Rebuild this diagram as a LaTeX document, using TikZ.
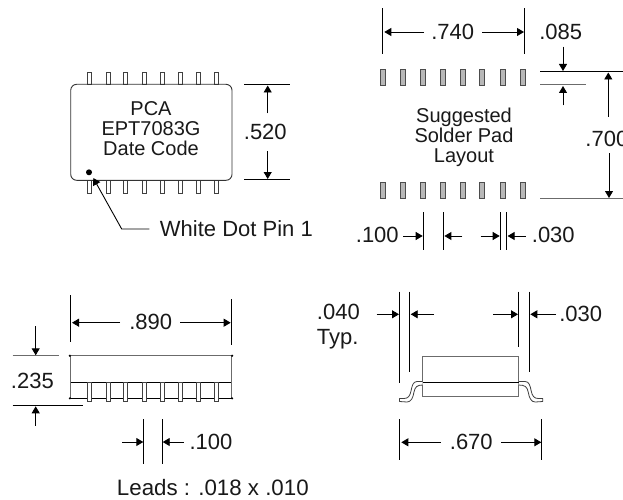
\documentclass[tikz,border=0pt]{standalone}
\usepackage{fontspec}
\setmainfont{Liberation Sans}
\usetikzlibrary{arrows.meta}
\definecolor{linegray}{gray}{0.42}
\definecolor{padgray}{gray}{0.72}
\tikzset{
  dimarrow/.style={draw=black,-{Triangle[length=7pt,width=8pt]}},
  ext/.style={draw=black},
  extg/.style={draw=linegray,line width=1pt},
  dimtext/.style={inner sep=0pt,font=\fontsize{22}{22}\selectfont,text=black!90},
  bodytext/.style={inner sep=0pt,anchor=base,font=\fontsize{20}{20}\selectfont,text=black!90},
  leadpin/.style={draw=black!75,fill=white,line width=0.8pt},
  padbox/.style={draw=black!70,fill=padgray,line width=0.8pt},
}
\begin{document}
\begin{tikzpicture}[x=1pt,y=-1pt,line width=0.9pt]
\clip (0,0) rectangle (623,500);
\fill[white] (0,0) rectangle (623,500);
% --- top view ---
\foreach \c in {89.3,108,125.3,144,162.3,180.3,198.7,216.3}{
  \draw[leadpin] (\c-2,72) rectangle (\c+2,84.3);
  \draw[leadpin] (\c-2,180.3) rectangle (\c+2,193);
}
\draw[draw=black!80,rounded corners=6pt] (70.7,84.3) rectangle (232,180.3);
\fill (89,172.3) circle (3);
\node[bodytext] (pca) at (151,115.5) {PCA};
\node[bodytext] (ept) at (151,135.7) {EPT7083G};
\node[bodytext] (dc) at (151,155.7) {Date Code};
\draw[ext] (244.3,84.3) -- (290.3,84.3);
\draw[ext] (244.3,179.5) -- (290.3,179.5);
\node[dimtext] (d520) at (265.3,131.7) {.520};
\draw[dimarrow] (267.7,113.3) -- (267.7,85.5);
\draw[dimarrow] (267.7,151) -- (267.7,179);
\node[dimtext,anchor=west] (wd) at (159.5,229) {White Dot Pin 1};
\coordinate (wdend) at (149.3,229);
\draw[dimarrow] (wdend) -- (121.7,229) -- (93.3,178);
% --- pad layout ---
\foreach \c in {383.3,403,422.7,442.7,462.7,482.3,503,523}{
  \draw[padbox] (\c-2.5,69.5) rectangle (\c+2.5,85.3);
  \draw[padbox] (\c-2.5,182.7) rectangle (\c+2.5,198.7);
}
\node[bodytext] (sg) at (464,122.7) {Suggested};
\node[bodytext] (sp) at (464,142.7) {Solder Pad};
\node[bodytext] (ly) at (464,162.7) {Layout};
\draw[ext] (382.7,8.3) -- (382.7,54);
\draw[ext] (524.3,8.3) -- (524.3,54);
\node[dimtext] (d740) at (452.7,32) {.740};
\draw[dimarrow] (424,32) -- (384.3,32);
\draw[dimarrow] (482.3,32) -- (524,32);
\node[dimtext] (d085) at (560.7,32) {.085};
\draw[ext] (540,71.3) -- (623,71.3);
\draw[extg] (540,85) -- (586,85);
\draw[extg] (540,198) -- (623,198);
\draw[dimarrow] (563,46.7) -- (563,71);
\draw[dimarrow] (563,105.3) -- (563,86);
\node[dimtext,anchor=west] (d700) at (585,139.3) {.700};
\draw[dimarrow] (608.3,116.7) -- (608.3,72.5);
\draw[dimarrow] (609,153) -- (609,198);
\foreach \c in {423.3,443.3,500.3,506.7} \draw[ext] (\c,212.3) -- (\c,250);
\node[dimtext] (d100a) at (377.3,235) {.100};
\node[dimtext] (d030a) at (553.3,235) {.030};
\draw[dimarrow] (403.3,236) -- (422.7,236);
\draw[dimarrow] (462.3,236) -- (444.4,236);
\draw[dimarrow] (480.7,236) -- (499.7,236);
\draw[dimarrow] (525.7,236) -- (507.6,236);
% --- side view ---
\draw[ext] (70.3,295) -- (70.3,341.7);
\draw[ext] (231,299.3) -- (231,345);
\node[dimtext] (d890) at (150.7,322) {.890};
\draw[dimarrow] (120,322.7) -- (72,322.7);
\draw[dimarrow] (180,322.7) -- (230.7,322.7);
\draw[linegray,line width=1.1pt] (70.7,355.7) -- (231.3,355.7);
\draw[linegray,line width=1.1pt] (70.7,355.7) -- (70.7,398.3);
\draw[linegray,line width=1.1pt] (231.3,355.7) -- (231.3,398.3);
\draw[black] (70.7,382.3) -- (231.3,382.3);
\draw[black] (69,398.3) -- (233,398.3);
\foreach \a/\b in {69.9/355.7,232.1/355.7,69.9/398.3,232.1/398.3}
  \fill (\a,\b) circle (1.2);
\foreach \c in {89.3,108,125.3,144,162.3,180.3,198.3,216.3}
  \draw[leadpin] (\c-2,382.3) rectangle (\c+2,401.7);
\draw[extg] (12.7,355.7) -- (58.7,355.7);
\draw[ext] (12.7,405.3) -- (83.3,405.3);
\node[dimtext] (d235) at (32.4,381.3) {.235};
\draw[dimarrow] (35.7,326) -- (35.7,355.3);
\draw[dimarrow] (35.7,425.7) -- (35.7,406.3);
\draw[ext] (143.7,419) -- (143.7,464.3);
\draw[ext] (162,419) -- (162,464.3);
\draw[dimarrow] (122.3,442) -- (143.3,442);
\draw[dimarrow] (183.7,442) -- (162.7,442);
\node[dimtext] (d100b) at (211,442) {.100};
\node[dimtext,anchor=base west,font=\fontsize{22.3}{22.3}\selectfont] (leads) at (116.5,495) {Leads : .018 x .010};
% --- end view ---
\draw[linegray] (422.7,356) rectangle (518.7,396);
\draw[leadpin,line join=round] (422.7,381.5) -- (417,381.5) .. controls (413,381.5) and (412,386) .. (411,391)
  .. controls (410,396) and (408,398.5) .. (404,398.5) -- (399.5,398.5) -- (399.5,401.5) -- (407,402)
  .. controls (411,402) and (413,398) .. (414,392) .. controls (415,387) and (417,385) .. (422.7,385);
\draw[leadpin,line join=round] (518.7,381.5) -- (525.2,381.5) .. controls (529.2,381.5) and (530.2,386) .. (531.2,391)
  .. controls (532.2,396) and (534.2,398.5) .. (538.2,398.5) -- (542.7,398.5) -- (542.7,401.5) -- (535.2,402)
  .. controls (531.2,402) and (529.2,398) .. (528.2,392) .. controls (527.2,387) and (525.2,385) .. (518.7,385);
\draw[black] (422.7,382.3) -- (518.7,382.3);
\draw[ext] (399.7,291.7) -- (399.7,383.3);
\draw[ext] (409.7,291.7) -- (409.7,372.3);
\draw[ext] (518.7,291.7) -- (518.7,346.7);
\draw[ext] (529.3,291.7) -- (529.3,371.7);
\draw[dimarrow] (376.7,314.3) -- (399,314.3);
\draw[dimarrow] (434,314.3) -- (410.7,314.3);
\draw[dimarrow] (493.3,314.3) -- (518,314.3);
\draw[dimarrow] (556,314.3) -- (530.3,314.3);
\node[dimtext,anchor=base west] (d040) at (316.5,319.5) {.040};
\node[dimtext,anchor=base west] (typ) at (316.5,344.5) {Typ.};
\node[dimtext] (d030b) at (580.7,314) {.030};
\draw[ext] (399.7,419) -- (399.7,460);
\draw[ext] (541.7,419) -- (541.7,460);
\draw[dimarrow] (440.7,442.3) -- (401.3,442.3);
\draw[dimarrow] (501,442.3) -- (541.3,442.3);
\node[dimtext] (d670) at (471.3,442.3) {.670};
\end{tikzpicture}
\end{document}
